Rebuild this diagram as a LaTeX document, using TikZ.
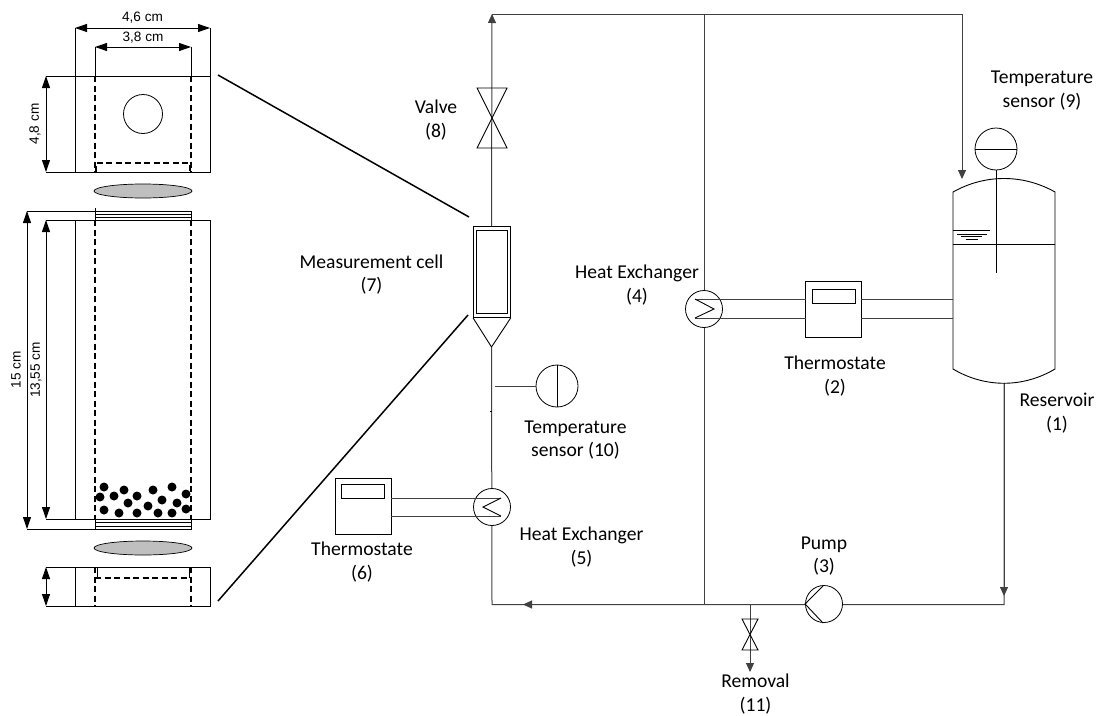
\documentclass[tikz,border=0pt]{standalone}
\usepackage{fontspec}
\setmainfont{Carlito}
\newfontfamily\dimfont{Liberation Sans}
\usetikzlibrary{arrows.meta,positioning,calc,shapes.geometric}

\begin{document}
\begin{tikzpicture}[
      x=1pt,y=-1pt,
      pipe/.style={line width=1pt,black!75},
      flow/.style={pipe,-{Triangle[length=9pt,width=8pt]}},
      wall/.style={line width=0.9pt},
      cut/.style={line width=1.6pt,dash pattern=on 6pt off 3.5pt},
      dimarr/.style={line width=0.9pt,{Triangle[length=12pt,width=8pt]}-{Triangle[length=12pt,width=8pt]}},
      zoomline/.style={line width=1.5pt},
      ring/.style={draw,circle,line width=0.8pt,fill=white,inner sep=0pt},
      hex/.style={ring,minimum size=37pt},
      sensor/.style={ring,minimum size=42pt},
      box/.style={draw,rectangle,line width=0.8pt,fill=white,inner sep=0pt,minimum width=56pt,minimum height=56pt},
      screen/.style={draw,rectangle,line width=0.8pt,inner sep=0pt,minimum width=43pt,minimum height=14pt},
      lbl/.style={font=\fontsize{19.6}{23.5}\selectfont,align=center,inner sep=0pt},
      dimlbl/.style={font=\dimfont\fontsize{13.6}{15}\selectfont,inner sep=0pt},
      grain/.style={circle,fill=black,inner sep=0pt,minimum size=9pt},
      frit/.style={draw,ellipse,line width=0.7pt,fill=black!25,minimum width=98pt,minimum height=14pt,inner sep=0pt},
    ]
    \useasboundingbox (0,0) rectangle (1099,715);

    % top piece of the cell
    \coordinate (tl) at (46,76);
    \coordinate (tr) at (210,76);
    \coordinate (bl) at (46,172);
    \coordinate (br) at (210,172);
    \draw[wall] (tl)--(tr)--(br)--(bl);
    \draw[wall] (75,28)--(75,172);
    \draw[wall] (95,47)--(95,76);
    \draw[wall] (191,47)--(191,76);
    \draw[wall] (210,28)--(210,76);
    \draw[cut] (95,76)--(95,172);
    \draw[cut] (191,76)--(191,172);
    \draw[cut] (96,172)--(96,163)--(190,163)--(190,172);
    \node[draw,circle,line width=0.8pt,minimum size=39pt,inner sep=0pt] (port) at (143,114) {};
    \draw[dimarr] (75,28)--(210,28) node[midway,above=4pt,dimlbl] (w1) {4,6 cm};
    \draw[dimarr] (95,47)--(191,47) node[midway,above=3pt,dimlbl] (w2) {3,8 cm};
    \draw[dimarr] (tl)--(bl);
    \node[dimlbl,rotate=90] (h1) at (35,124) {4,8 cm};

    \node[frit] (frit1) at (143,191) {};

    % middle piece
    \draw[wall] (46,220)--(210,220)--(210,519)--(46,519);
    \draw[wall] (75,220)--(75,519);
    \draw[cut] (95,220)--(95,519);
    \draw[cut] (191,220)--(191,519);
    \draw[wall] (27,211)--(191,211)--(191,220);
    \draw[wall] (27,529)--(191,529)--(191,519);
    \draw[wall] (95,208)--(95,220);
    \draw[wall] (95,519)--(95,529);
    \draw[line width=0.5pt] (95,214)--(191,214);
    \draw[line width=0.5pt] (95,217)--(191,217);
    \draw[line width=0.5pt] (95,522)--(191,522);
    \draw[line width=0.5pt] (95,526)--(191,526);
    \draw[dimarr] (27,211)--(27,529);
    \draw[dimarr] (46,220)--(46,519);
    \node[dimlbl,rotate=90] (h2) at (16,370) {15 cm};
    \node[dimlbl,rotate=90] (h3) at (36,370) {13,55 cm};

    % particles
    \foreach \px/\py in {104/487,124/490,153/490,172/487,100/497,114/496,137/496,186/494,
                         162/500,128/503,177/503,148/506,104/510,119/513,137/513,158/513,172/513,186/509}
      \node[grain] at (\px,\py) {};

    \node[frit] (frit2) at (143,548) {};

    % bottom piece
    \draw[wall] (46,567)--(210,567)--(210,606)--(46,606);
    \draw[wall] (75,567)--(75,606);
    \draw[cut] (95,567)--(95,606);
    \draw[cut] (191,567)--(191,606);
    \draw[cut] (95,578)--(191,578);
    \draw[wall] (97,567)--(97,578);
    \draw[wall] (189,567)--(189,578);
    \draw[dimarr] (46,567)--(46,606);

    % measurement cell
    \node[draw,rectangle,line width=0.8pt,minimum width=37pt,minimum height=91pt,inner sep=0pt,anchor=north west] (cell) at (473,226) {};
    \node[draw,rectangle,line width=0.8pt,minimum width=31pt,minimum height=83pt,inner sep=0pt] (cellin) at (cell.center) {};
    \coordinate (tip) at (491.5,347);
    \draw[wall] (cell.south west)--(tip)--(cell.south east);
    \draw[zoomline] (218,75)--(469,217);
    \draw[zoomline] (218,601)--(468,315);

    % piping
    \coordinate (topl) at (492,14);
    \coordinate (topm) at (704,14);
    \coordinate (topr) at (962,14);
    \coordinate (botl) at (492,604.5);
    \coordinate (botm) at (704,604.5);
    \coordinate (botv) at (750,604.5);
    \coordinate (botr) at (1004,604.5);
    \coordinate (rbot) at (1004,383);
    \draw[flow] (cell.north -| tip)--(topl);
    \draw[pipe] (topl)--(topr);
    \draw[flow] (topr)--(962,179);
    \draw[pipe] (topm)--(botm);
    \draw[pipe] (tip)--(botl)--(botr)--(rbot);
    \draw[flow] (rbot)--(1004,596);
    \draw[flow] (botm)--(523,604.5);
    \draw[flow] (botv)--(750,672);
    \draw[line width=0.6pt] (490,411.5)--(492,411.5);

    % equipment
    \node[hex] (hexb) at (492,507) {};
    \node[hex] (hexa) at (704,309) {};
    \node[hex] (pump) at (824,604) {};
    \node[box] (thermb) at (363,506.5) {};
    \node[box] (therma) at (833.5,309) {};
    \node[screen] at ($(thermb.north)+(0,13)$) {};
    \node[screen] at ($(therma.north)+(0,16)$) {};
    \node[sensor] (senb) at (557,386) {};
    \node[sensor] (sena) at (996,149) {};
    \draw[wall] (senb.north)--(senb.south);
    \draw[wall] (sena.west)--(sena.east);
    \draw[pipe] (495,386)--(senb.west);

    % reservoir
    \coordinate (rtl) at (953,192);
    \coordinate (rtr) at (1055,192);
    \coordinate (rbl) at (953,369);
    \coordinate (rbr) at (1055,369);
    \draw[wall] (rtl) .. controls (985,174) and (1023,174) .. (rtr)--(rbr)
      .. controls (1023,388) and (985,388) .. (rbl)--cycle;
    \draw[wall] (953,244)--(1055,244);
    \draw[wall] (953,230)--(990,230);
    \draw[line width=0.7pt] (957,234)--(987,234);
    \draw[line width=0.7pt] (961,236.5)--(982,236.5);
    \draw[line width=0.7pt] (966,239.5)--(978,239.5);
    \draw[wall] (sena.south)--(996,273);

    % coil lines
    \draw[pipe] (391,498)--(501,498);
    \draw[pipe] (391,516)--(501,516);
    \draw[wall] (501,498)--(483,507)--(501,516);
    \draw[pipe] (695,299)--(806,299);
    \draw[pipe] (695,318)--(806,318);
    \draw[wall] (695,299)--(714,309)--(695,318);
    \draw[pipe] (861,299)--(953,299);
    \draw[pipe] (861,318)--(953,318);

    % pump wedge
    \draw[wall] (823,586)--(pump.west)--(823,623);

    % valves
    \draw[wall] (477,88)--(507,88)--(477,148)--(507,148)--cycle;
    \draw[wall] (742,619)--(758,619)--(742,650)--(758,650)--cycle;

    % labels
    \node[lbl] (lvalve) at (436,120) {Valve\\(8)};
    \node[lbl] (lsens9) at (1042,90.5) {Temperature\\sensor (9)};
    \node[lbl] (lcell) at (371.5,274.5) {Measurement cell\\(7)};
    \node[lbl] (lhexa) at (637,285) {Heat Exchanger\\(4)};
    \node[lbl] (ltherma) at (835,376) {Thermostate\\(2)};
    \node[lbl] (lres) at (1057,413) {Reservoir\\(1)};
    \node[lbl] (lsens10) at (575.5,440) {Temperature\\sensor (10)};
    \node[lbl] (lhexb) at (581.5,547) {Heat Exchanger\\(5)};
    \node[lbl] (lthermb) at (362,562) {Thermostate\\(6)};
    \node[lbl] (lpump) at (824,556) {Pump\\(3)};
    \node[lbl] (lrem) at (755.5,694) {Removal\\(11)};
  \end{tikzpicture}
\end{document}
